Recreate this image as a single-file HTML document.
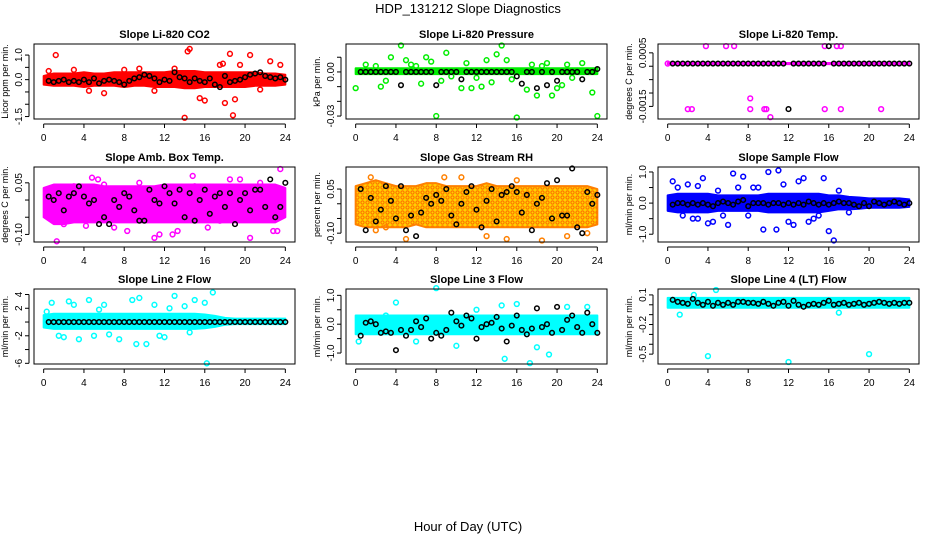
<!DOCTYPE html>
<html><head><meta charset="utf-8"><style>
body{margin:0;background:#fff;}
svg{display:block;font-family:"Liberation Sans",sans-serif;}
</style></head><body>
<svg id="chart" width="936" height="540" viewBox="0 0 936 540" xmlns="http://www.w3.org/2000/svg">
<defs>
<pattern id="rhpat" width="5" height="5" patternUnits="userSpaceOnUse"><rect width="5" height="5" fill="#ffd000"/><circle cx="2.5" cy="2.5" r="1.6" fill="none" stroke="#ff6a00" stroke-width="1"/></pattern>
</defs>
<text x="468" y="13" text-anchor="middle" font-size="13">HDP_131212  Slope Diagnostics</text>
<text x="468" y="531" text-anchor="middle" font-size="13">Hour of Day (UTC)</text>
</svg>
<script>
const xTicks=[0,4,8,12,16,20,24];
const hours=[0,1,2,3,4,5,6,7,8,9,10,11,12,13,14,15,16,17,18,19,20,21,22,23,24];
// Panel 1 CO2
const co2Lo=[-0.2,-0.25,-0.25,-0.25,-0.3,-0.25,-0.25,-0.25,-0.3,-0.25,-0.25,-0.3,-0.3,-0.3,-0.35,-0.35,-0.3,-0.3,-0.3,-0.3,-0.3,-0.25,-0.25,-0.25,-0.2];
const co2Hi=[0.15,0.25,0.25,0.25,0.3,0.25,0.25,0.3,0.3,0.3,0.3,0.3,0.3,0.35,0.35,0.35,0.3,0.3,0.3,0.3,0.3,0.3,0.25,0.25,0.2];
const co2Black=[-0.05,-0.1,-0.05,0,-0.1,-0.05,-0.1,0,-0.1,0.05,-0.15,-0.05,0,-0.05,-0.1,-0.2,-0.05,0.05,0.1,0.2,0.15,0.05,-0.1,0,-0.05,0.3,0.1,0.05,-0.1,0.05,-0.05,-0.1,0.05,-0.2,-0.3,0.15,-0.1,-0.05,0,0.1,0.2,0.25,0.3,0.15,0.1,0.05,0.1,0];
const co2OutX=[1.2,0.5,6,9.5,14,14.3,14.5,15.5,16,18,18.5,18.8,19,19.5,20.5,22.5,23.5,17.5,17.8,13,4.5,11,3,8,21.5];
const co2OutY=[1.0,0.35,-0.55,0.45,-1.55,1.15,1.25,-0.75,-0.85,-0.95,1.05,-1.45,-0.8,0.6,1.0,0.75,0.6,0.6,0.65,0.45,-0.45,-0.45,0.4,0.4,-0.4];
const co2Ticks=[-1.5,-1,-0.5,0,0.5,1];const co2Labels=["-1.5","","","0.0","","1.0"];
// Panel 2 Pressure
const presLo=hours.map(()=> -0.0015);const presHi=hours.map(()=>0.0025);
const presBlack=[0,0,0,0,0,0,0,0,-0.009,0,0,0,0,0,0,-0.009,0,0,0,0,-0.005,0,0,0,0,0,0,0,0,0,0,-0.003,-0.008,0,0,-0.011,0,-0.009,0,-0.006,0,0,0,0,-0.005,0,0,0.002];
const presOutX=[0,2.5,3.5,4.5,5,6.5,7,8,8.5,9,10.5,11,11.5,12.5,13,14,14.5,15,16,17,17.5,18,19,19.5,20,21,22.5,23.5,24,1,2,5.5,7.5,12,15.5,18.5,21.5,3,6,9.5,13.5,20.5];
const presOutY=[-0.011,-0.01,0.01,0.018,0.008,-0.008,0.01,-0.03,-0.006,0.013,-0.011,0.006,-0.011,-0.01,0.008,0.012,0.018,0.008,-0.031,-0.012,0.005,-0.016,0.006,-0.016,-0.011,0.005,0.006,-0.014,-0.03,0.005,0.004,0.005,0.007,-0.004,-0.005,0.004,-0.004,-0.006,0.004,-0.003,-0.007,-0.009];
const presTicks=[-0.03,-0.02,-0.01,0,0.01];const presLabels=["-0.03","","","0.00",""];
// Panel 3 Temp
const tempLo=hours.map(()=>0.00008);const tempHi=hours.map(()=>0.00012);
const tempBlack=[0.0001,0.0001,0.0001,0.0001,0.0001,0.0001,0.0001,0.0001,0.0001,0.0001,0.0001,0.0001,0.0001,0.0001,0.0001,0.0001,0.0001,0.0001,0.0001,0.0001,0.0001,0.0001,0.0001,-0.0016,0.0001,0.0001,0.0001,0.0001,0.0001,0.0001,0.0001,0.00075,0.0001,0.0001,0.0001,0.0001,0.0001,0.0001,0.0001,0.0001,0.0001,0.0001,0.0001,0.0001,0.0001,0.0001,0.0001,0.0001];
const tempOutX=[3.8,5.8,6.6,15.6,16.8,17.2,8.2,2.0,2.4,8.2,9.6,9.8,15.6,17.2,21.2,10.2,0];
const tempOutY=[0.00075,0.00075,0.00075,0.00075,0.00075,0.00075,-0.0012,-0.0016,-0.0016,-0.0016,-0.0016,-0.0016,-0.0016,-0.0016,-0.0016,-0.0019,0.0001];
const tempTicks=[0.0005,0,-0.0005,-0.001,-0.0015];const tempLabels=["0.0005","","","","-0.0015"];
// Panel 4 Amb box
const ambLo=[-0.05,-0.07,-0.07,-0.065,-0.065,-0.065,-0.065,-0.065,-0.065,-0.065,-0.065,-0.065,-0.065,-0.065,-0.065,-0.065,-0.065,-0.065,-0.065,-0.065,-0.065,-0.065,-0.065,-0.065,-0.05];
const ambHi=[0.035,0.045,0.045,0.045,0.045,0.045,0.04,0.04,0.04,0.04,0.04,0.04,0.045,0.045,0.045,0.045,0.045,0.045,0.045,0.045,0.045,0.045,0.045,0.045,0.035];
const ambBlack=[0.01,0,0.02,-0.03,0.01,0.02,0.04,0.01,-0.01,0,-0.07,-0.05,-0.07,0,-0.02,0.02,0.01,-0.03,-0.06,-0.06,0.03,0,-0.01,0.04,0.02,-0.01,0.03,-0.05,0.02,-0.06,0,0.03,-0.04,0.01,0.02,-0.02,0.02,-0.07,0,0.02,-0.03,0.03,0.03,-0.02,0.06,-0.05,-0.02,0.05];
const ambOutX=[1.3,4.8,5.4,6,4.2,8.3,9.5,11,11.5,12.8,13.3,14.8,16.3,18.5,19.5,20.5,21.5,23.5,23.2,22.8,3,7,15,17.5,10,2];
const ambOutY=[-0.12,0.065,0.06,0.045,-0.075,-0.09,0.05,-0.11,-0.1,-0.1,-0.09,0.07,-0.08,0.06,0.06,-0.11,0.05,0.09,-0.09,-0.09,0.04,-0.08,0.04,-0.06,0.03,-0.07];
const ambTicks=[-0.1,-0.05,0,0.05];const ambLabels=["-0.10","","","0.05"];
// Panel 5 RH
const rhLo=[-0.07,-0.08,-0.08,-0.08,-0.08,-0.08,-0.07,-0.08,-0.08,-0.08,-0.08,-0.08,-0.08,-0.08,-0.08,-0.08,-0.08,-0.08,-0.08,-0.08,-0.08,-0.08,-0.08,-0.08,-0.07];
const rhHi=[0.06,0.07,0.08,0.07,0.06,0.06,0.06,0.07,0.07,0.06,0.06,0.06,0.06,0.07,0.06,0.06,0.06,0.06,0.06,0.06,0.06,0.06,0.06,0.06,0.05];
const rhBlack=[0.05,-0.09,0.02,-0.06,-0.02,0.06,0.01,-0.05,0.06,-0.09,-0.04,-0.11,-0.03,0.02,0,0.03,0.01,0.05,-0.04,-0.07,0,0.04,0.06,-0.02,-0.08,0.01,0.05,-0.06,0.03,0.04,0.06,0.04,-0.03,0.03,-0.09,0,0.02,0.07,-0.05,0.08,-0.04,-0.04,0.12,-0.08,-0.1,0.04,0,0.03];
const rhOutX=[1.5,2,5,8.8,10.5,15,18.5,21,23,3,13,16];
const rhOutY=[0.09,-0.09,-0.12,0.09,0.09,-0.12,-0.125,-0.11,-0.1,-0.08,-0.11,0.08];
const rhTicks=[-0.1,-0.05,0,0.05];const rhLabels=["-0.10","","","0.05"];
// Panel 6 Sample flow
const sfLo=[-0.25,-0.3,-0.3,-0.3,-0.3,-0.25,-0.25,-0.25,-0.25,-0.25,-0.3,-0.3,-0.3,-0.3,-0.3,-0.3,-0.25,-0.2,-0.2,-0.18,-0.15,-0.15,-0.15,-0.15,-0.12];
const sfHi=[0.25,0.3,0.3,0.3,0.3,0.25,0.25,0.25,0.25,0.25,0.3,0.3,0.3,0.3,0.3,0.3,0.25,0.25,0.2,0.18,0.15,0.15,0.15,0.15,0.12];
const sfBlack=[-0.05,0,0,-0.05,0,-0.05,0,-0.05,-0.1,0,0.05,0,-0.05,0.05,0.1,-0.1,0,0,0,-0.05,0,0,-0.05,0,-0.05,0,-0.05,0.05,0,-0.05,0,-0.05,0,0.05,0,0,-0.05,-0.1,0,-0.1,0.05,0,-0.05,0,0.05,0,-0.05,0];
const sfOutX=[0.5,1,2,2.5,3,3.5,3,4,4.5,5,6,6.5,7.5,8,8.5,9,9.5,10,11,10.8,11.5,12,12.5,13,13.5,14,14.5,15.5,16,16.5,15,17,18,5.5,1.5,7];
const sfOutY=[0.7,0.5,0.6,-0.5,0.55,0.8,-0.5,-0.65,-0.6,0.4,-0.7,0.95,0.85,-0.4,0.5,0.5,-0.85,1.0,1.05,-0.85,0.6,-0.6,-0.7,0.7,0.8,-0.6,-0.5,0.8,-0.9,-1.2,-0.4,0.4,-0.3,-0.4,-0.4,0.5];
const sfTicks=[-1,-0.5,0,0.5,1];const sfLabels=["-1.0","","0.0","","1.0"];
// Panel 7 Line 2
const l2Lo=[-0.8,-1.0,-1.0,-1.0,-1.0,-1.0,-1.0,-1.0,-1.0,-1.0,-1.0,-1.0,-1.0,-1.0,-1.0,-1.0,-0.9,-0.7,-0.4,-0.3,-0.3,-0.3,-0.3,-0.3,-0.3];
const l2Hi=[1.0,1.2,1.2,1.2,1.2,1.2,1.2,1.2,1.2,1.2,1.2,1.2,1.2,1.2,1.2,1.2,1.1,0.9,0.6,0.5,0.5,0.5,0.5,0.5,0.5];
const l2Black=hours.slice(0,24).flatMap(()=>[0,0]);
const l2OutX=[0.3,0.8,2.5,3.5,4.5,6,7.5,8.8,9.2,10.2,11,12,13,14,15,16.2,16.8,16,1.5,2,5,12.5,9.5,11.5,3,14.5,6.5,5.5];
const l2OutY=[1.5,2.8,3,-2.5,3.2,2.5,-2.5,3.2,-3.2,-3.2,2.5,-2.2,3.8,2.3,3.2,-6,4.3,2.8,-2,-2.2,-2,2,3.5,-2,2.5,-1.5,-1.8,1.8];
const l2Ticks=[-6,-4,-2,0,2,4];const l2Labels=["-6","","-2","","2","4"];
// Panel 8 Line 3
const l3Lo=hours.map(()=> -0.35);const l3Hi=hours.map(()=>0.3);
const l3Black=[-0.4,0.05,0.1,0,-0.3,-0.25,-0.3,-0.9,-0.2,-0.4,-0.2,0.1,-0.1,0.2,-0.5,-0.3,-0.4,-0.2,0.4,0.1,-0.05,0.3,0.2,-0.5,-0.1,0,0.05,0.25,-0.15,-0.6,-0.05,0.3,-0.2,-0.35,-0.15,0.55,-0.1,0,-0.3,0.6,-0.2,0.15,0.3,-0.1,-0.3,0.4,0,-0.3];
const l3OutX=[8,4,14.5,14.8,17.3,18,19.2,21,23,10,0.3,6,12,16,3];
const l3OutY=[1.25,0.75,0.65,-1.2,-1.35,-0.8,-1.05,0.6,0.6,-0.75,-0.6,-0.6,0.5,0.7,0.3];
const l3Ticks=[-1,-0.5,0,0.5,1];const l3Labels=["-1.0","","0.0","","1.0"];
// Panel 9 Line 4
const l4Lo=hours.map(()=> -0.03);const l4Hi=hours.map(()=>0.07);
const l4Black=[0.05,0.03,0.02,0.01,0.06,0.02,0,0.03,-0.01,0.02,0,0.02,0,0.03,0.03,0.02,0.02,0.01,0.03,0.01,-0.01,0.02,0.03,-0.01,0.04,0,-0.02,0,0.01,0,0.02,0.04,0,0.01,0.02,0,0.01,0.02,0,0.01,0.02,0.03,0.02,0.01,0.02,0.01,0.02,0.02];
const l4OutX=[4,12,20,1.2,4.8,2.6,17];
const l4OutY=[-0.52,-0.58,-0.5,-0.1,0.15,0.1,-0.08];
const l4Ticks=[0.1,0,-0.1,-0.2,-0.3,-0.4,-0.5];const l4Labels=["0.1","","","-0.2","","","-0.5"];

const panels=[
 {name:"co2",title:"Slope Li-820 CO2",yt:"Licor ppm per min.",col:0,row:0,ylim:[-1.6,1.45],c:"#ff0000",lo:co2Lo,hi:co2Hi,blk:co2Black,ox:co2OutX,oy:co2OutY,t:co2Ticks,tl:co2Labels},
 {name:"pressure",title:"Slope Li-820 Pressure",yt:"kPa per min.",col:1,row:0,ylim:[-0.032,0.019],c:"#00ee00",lo:presLo,hi:presHi,blk:presBlack,ox:presOutX,oy:presOutY,t:presTicks,tl:presLabels},
 {name:"temp",title:"Slope Li-820 Temp.",yt:"degrees C per min.",col:2,row:0,ylim:[-0.00197,0.00083],c:"#ff00ff",lo:tempLo,hi:tempHi,blk:tempBlack,ox:tempOutX,oy:tempOutY,t:tempTicks,tl:tempLabels},
 {name:"amb-box-temp",title:"Slope Amb. Box Temp.",yt:"degrees C per min.",col:0,row:1,ylim:[-0.122,0.096],c:"#ff00ff",lo:ambLo,hi:ambHi,blk:ambBlack,ox:ambOutX,oy:ambOutY,t:ambTicks,tl:ambLabels},
 {name:"gas-rh",title:"Slope Gas Stream RH",yt:"percent per min.",col:1,row:1,ylim:[-0.13,0.125],c:"#ff8000",fill:"url(#rhpat)",lo:rhLo,hi:rhHi,blk:rhBlack,ox:rhOutX,oy:rhOutY,t:rhTicks,tl:rhLabels},
 {name:"sample-flow",title:"Slope Sample Flow",yt:"ml/min per min.",col:2,row:1,ylim:[-1.25,1.16],c:"#0000ff",lo:sfLo,hi:sfHi,blk:sfBlack,ox:sfOutX,oy:sfOutY,t:sfTicks,tl:sfLabels},
 {name:"line2-flow",title:"Slope Line 2 Flow",yt:"ml/min per min.",col:0,row:2,ylim:[-6.1,4.8],c:"#00ffff",lo:l2Lo,hi:l2Hi,blk:l2Black,ox:l2OutX,oy:l2OutY,t:l2Ticks,tl:l2Labels},
 {name:"line3-flow",title:"Slope Line 3 Flow",yt:"ml/min per min.",col:1,row:2,ylim:[-1.38,1.22],c:"#00ffff",lo:l3Lo,hi:l3Hi,blk:l3Black,ox:l3OutX,oy:l3OutY,t:l3Ticks,tl:l3Labels},
 {name:"line4-flow",title:"Slope Line 4 (LT) Flow",yt:"ml/min per min.",col:2,row:2,ylim:[-0.6,0.16],c:"#00ffff",lo:l4Lo,hi:l4Hi,blk:l4Black,ox:l4OutX,oy:l4OutY,t:l4Ticks,tl:l4Labels}
];
const NS="http://www.w3.org/2000/svg";
const svg=document.getElementById('chart');
function mk(tag,attrs,parent){const e=document.createElementNS(NS,tag);for(const k in attrs)e.setAttribute(k,attrs[k]);parent.appendChild(e);return e;}
const lefts=[34,346,658],tops=[44,167,289],W=261,H=75;
panels.forEach(p=>{
 const L=lefts[p.col],T=tops[p.row];
 const sx=v=>L+(v+0.96)/25.92*W;
 const sy=v=>T+H-(v-p.ylim[0])/(p.ylim[1]-p.ylim[0])*H;
 const g=mk('g',{},svg);
 
 
 const ttl=mk('text',{x:L+W/2,y:T-6,'text-anchor':'middle','font-size':11,'font-weight':'bold'},g);ttl.textContent=p.title;
 
 
 let pts=p.lo.map((v,i)=>sx(hours[i])+','+sy(v));
 pts=pts.concat(p.hi.map((v,i)=>sx(hours[i])+','+sy(v)).reverse());
 const band=mk('polygon',{points:pts.join(' '),fill:p.fill||p.c,stroke:p.c,'stroke-width':2,'stroke-linejoin':'round'},g);
 
 
 p.ox.forEach((x,i)=>{const c=mk('circle',{cx:sx(x),cy:sy(p.oy[i]),r:2.4,fill:'none',stroke:p.c,'stroke-width':1.5},g);
  
  });
 p.blk.forEach((v,i)=>{const c=mk('circle',{cx:sx(0.5+i*0.5),cy:sy(v),r:2.3,fill:'none',stroke:'#000','stroke-width':1.5},g);
  
  });
 const box=mk('rect',{x:L,y:T,width:W,height:H,fill:'none',stroke:'#000','stroke-width':1},g);
 
 
 mk('line',{x1:sx(0),x2:sx(24),y1:T+H+5,y2:T+H+5,stroke:'#000'},g);
 xTicks.forEach(t=>{mk('line',{x1:sx(t),x2:sx(t),y1:T+H+5,y2:T+H+9,stroke:'#000'},g);
  const tx=mk('text',{x:sx(t),y:T+H+22,'text-anchor':'middle','font-size':10},g);tx.textContent=t;
  
  });
 const yy=p.t.map(sy);
 mk('line',{x1:L-5,x2:L-5,y1:Math.min(...yy),y2:Math.max(...yy),stroke:'#000'},g);
 p.t.forEach((t,i)=>{mk('line',{x1:L-9,x2:L-5,y1:sy(t),y2:sy(t),stroke:'#000'},g);
  if(p.tl[i]){const tx=mk('text',{x:L-12,y:sy(t),'text-anchor':'middle','font-size':10,transform:`rotate(-90 ${L-12} ${sy(t)})`},g);tx.textContent=p.tl[i];
  
  }});
 const ya=mk('text',{x:L-26,y:T+H/2,'text-anchor':'middle','font-size':9,transform:`rotate(-90 ${L-26} ${T+H/2})`},g);ya.textContent=p.yt;
 
 
});
</script>
</body></html>
